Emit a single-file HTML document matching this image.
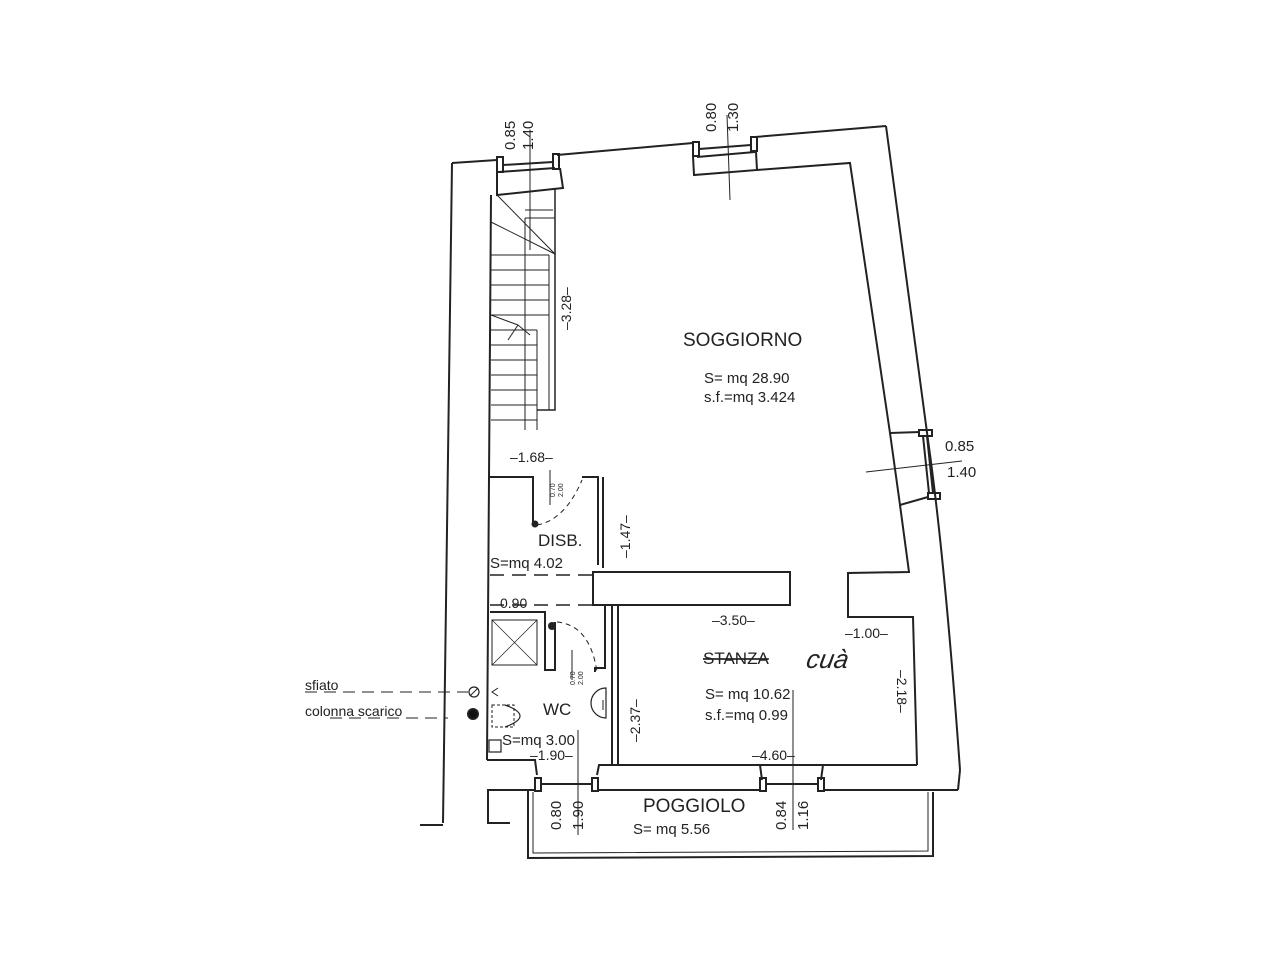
<!DOCTYPE html>
<html><head><meta charset="utf-8"><style>
html,body{margin:0;padding:0;background:#fff;width:1280px;height:960px;overflow:hidden}
svg{display:block}
text{font-family:"Liberation Sans","DejaVu Sans",sans-serif;fill:#222}
</style></head><body>
<svg width="1280" height="960" viewBox="0 0 1280 960" xmlns="http://www.w3.org/2000/svg">
<g stroke="#222" stroke-width="2" fill="none" stroke-linejoin="miter">
<polyline points="452,163 497,160"/>
<line x1="452" y1="163" x2="443" y2="823"/>
<line x1="420" y1="825" x2="443" y2="825"/>
<line x1="557" y1="155" x2="693" y2="143"/>
<line x1="755" y1="137" x2="886" y2="126"/>
<rect x="497" y="157" width="6" height="15"/><rect x="553" y="154" width="6" height="15"/>
<line x1="503" y1="165" x2="553" y2="162"/><line x1="499" y1="172" x2="555" y2="168"/>
<rect x="693" y="142" width="6" height="14"/><rect x="751" y="137" width="6" height="14"/>
<line x1="699" y1="149" x2="751" y2="145"/><line x1="697" y1="157" x2="755" y2="152"/>
<polyline points="497,172 497,195 563,188 560,168"/>
<polyline points="693,156 694,175 757,170 756,152"/>
<polyline points="757,170 850,163 890,433 920,432"/>
<path d="M886,126 L928,440 Q945,560 960,770"/>
<line x1="960" y1="770" x2="958" y2="790"/>
<rect x="919" y="430" width="13" height="6"/><rect x="928" y="493" width="12" height="6"/>
<line x1="923" y1="436" x2="929" y2="493"/><line x1="927" y1="436" x2="933" y2="493"/>
<polyline points="890,433 900,505 928,497"/>
<polyline points="900,505 909,572 848,573 848,617 913,617 917,765"/>
<line x1="866" y1="472" x2="962" y2="461" stroke-width="1"/>
<line x1="491" y1="195" x2="487" y2="760"/>
<polyline points="487,760 535,760 537,775"/>
<polyline points="597,775 599,765 917,765"/>
<polyline points="598,790 760,790"/>
<polyline points="823,790 958,790"/>
<line x1="823" y1="765" x2="821" y2="780"/><line x1="760" y1="765" x2="762" y2="780"/>
<rect x="535" y="778" width="6" height="13"/><rect x="592" y="778" width="6" height="13"/>
<rect x="760" y="778" width="6" height="13"/><rect x="818" y="778" width="6" height="13"/>
<line x1="541" y1="784" x2="592" y2="784"/><line x1="766" y1="784" x2="818" y2="784"/>
<line x1="487" y1="790" x2="535" y2="790"/>
<polyline points="488,790 488,823 510,823"/>
<polyline points="528,790 528,858 933,856 933,792"/>
<polyline points="533,792 533,853 928,851 928,792" stroke-width="1"/>
<polyline points="555,188 555,410 537,410" stroke-width="1.5"/>
<line x1="549" y1="255" x2="549" y2="410" stroke-width="1"/>
<polyline points="525,218 555,218" stroke-width="1"/>
<polyline points="525,218 525,430" stroke-width="1"/>
<polyline points="537,330 537,430" stroke-width="1"/>
<g stroke-width="1">
<line x1="491" y1="222" x2="555" y2="254"/>
<line x1="497" y1="195" x2="555" y2="254"/>
<line x1="525" y1="210" x2="553" y2="210"/>
<line x1="491" y1="255" x2="549" y2="255"/><line x1="491" y1="270" x2="549" y2="270"/>
<line x1="491" y1="285" x2="549" y2="285"/><line x1="491" y1="300" x2="549" y2="300"/>
<line x1="491" y1="315" x2="549" y2="315"/><line x1="491" y1="330" x2="537" y2="330"/>
<line x1="491" y1="345" x2="537" y2="345"/><line x1="491" y1="360" x2="537" y2="360"/>
<line x1="491" y1="375" x2="537" y2="375"/><line x1="491" y1="390" x2="537" y2="390"/>
<line x1="491" y1="405" x2="537" y2="405"/><line x1="491" y1="420" x2="537" y2="420"/>
<line x1="491" y1="315" x2="518" y2="325"/><line x1="518" y1="325" x2="530" y2="335"/>
<line x1="518" y1="325" x2="508" y2="340"/>
<line x1="530" y1="130" x2="530" y2="250"/>
<line x1="727" y1="115" x2="730" y2="200"/>
</g>
<polyline points="490,477 533,477 533,525" stroke-width="2"/>
<polyline points="582,477 598,477 598,565"/>
<line x1="603" y1="477" x2="603" y2="568"/>
<path d="M537,525 Q565,520 582,480" stroke-dasharray="5,4" stroke-width="1"/>
<circle cx="535" cy="524" r="2.5" fill="#222"/>
<line x1="550" y1="470" x2="550" y2="505" stroke-width="1"/>
<line x1="490" y1="575" x2="593" y2="575" stroke-dasharray="14,8" stroke-width="1.5"/>
<line x1="490" y1="605" x2="593" y2="605" stroke-dasharray="14,8" stroke-width="1.5"/>
<rect x="593" y="572" width="197" height="33"/>
<line x1="612" y1="605" x2="612" y2="765"/><line x1="618" y1="605" x2="618" y2="765"/>
<polyline points="490,612 545,612 545,670 555,670 555,622"/>
<rect x="492" y="620" width="45" height="45" stroke-width="1"/>
<line x1="492" y1="620" x2="537" y2="665" stroke-width="0.7"/><line x1="537" y1="620" x2="492" y2="665" stroke-width="0.7"/>
<circle cx="552" cy="626" r="3" fill="#222"/>
<path d="M557,622 Q590,625 597,672" stroke-dasharray="5,4" stroke-width="1"/>
<polyline points="595,672 595,668 605,668 605,605"/>
<line x1="572" y1="650" x2="572" y2="680" stroke-width="1"/>
<path d="M606,688 A14,14 0 1 0 606,718 Z" stroke-width="1.2"/>
<line x1="603" y1="700" x2="603" y2="710" stroke-width="1"/>
<rect x="492" y="705" width="22" height="22" stroke-width="1" stroke-dasharray="3,2"/>
<path d="M505,705 Q535,716 505,727" stroke-width="1.2"/>
<rect x="489" y="740" width="12" height="12" stroke-width="1.2"/>
<line x1="305" y1="692" x2="468" y2="692" stroke-dasharray="12,7" stroke-width="1"/>
<line x1="330" y1="718" x2="448" y2="718" stroke-dasharray="12,7" stroke-width="1"/>
<circle cx="474" cy="692" r="5" stroke-width="1.2"/><line x1="470" y1="696" x2="478" y2="688" stroke-width="1"/>
<circle cx="473" cy="714" r="5" fill="#111"/>
<polyline points="498,688 492,692 498,696" stroke-width="1"/>
<line x1="578" y1="730" x2="578" y2="835" stroke-width="1"/>
<line x1="793" y1="690" x2="793" y2="830" stroke-width="1"/>
</g>
<g font-size="15">
<text transform="translate(515,150) rotate(-90)">0.85</text>
<text transform="translate(533,150) rotate(-90)">1.40</text>
<text transform="translate(716,132) rotate(-90)">0.80</text>
<text transform="translate(738,132) rotate(-90)">1.30</text>
<text x="945" y="451">0.85</text>
<text x="947" y="477">1.40</text>
<text transform="translate(571,330) rotate(-90)" font-size="14">–3.28–</text>
<text x="510" y="462" font-size="14">–1.68–</text>
<text transform="translate(630,558) rotate(-90)" font-size="14">–1.47–</text>
<text transform="translate(640,742) rotate(-90)" font-size="14">–2.37–</text>
<text transform="translate(897,670) rotate(90)" font-size="14">–2.18–</text>
<text x="500" y="608" font-size="14">0.90</text>
<text x="712" y="625" font-size="14">–3.50–</text>
<text x="845" y="638" font-size="14">–1.00–</text>
<text x="530" y="760" font-size="14">–1.90–</text>
<text x="752" y="760" font-size="14">–4.60–</text>
<text x="683" y="346" font-size="19">SOGGIORNO</text>
<text x="704" y="383">S=  mq  28.90</text>
<text x="704" y="402">s.f.=mq  3.424</text>
<text x="538" y="546" font-size="17">DISB.</text>
<text x="490" y="568">S=mq  4.02</text>
<text x="703" y="664" font-size="17" text-decoration="line-through">STANZA</text>
<text x="808" y="668" font-size="26" font-style="italic" transform="skewX(-10) translate(115,0)">cuà</text>
<text x="705" y="699">S=  mq  10.62</text>
<text x="705" y="720">s.f.=mq  0.99</text>
<text x="543" y="715" font-size="17">WC</text>
<text x="502" y="745">S=mq  3.00</text>
<text x="643" y="812" font-size="19">POGGIOLO</text>
<text x="633" y="834">S=  mq  5.56</text>
<text transform="translate(561,830) rotate(-90)">0.80</text>
<text transform="translate(583,830) rotate(-90)">1.90</text>
<text transform="translate(786,830) rotate(-90)">0.84</text>
<text transform="translate(808,830) rotate(-90)">1.16</text>
<text transform="translate(555,497) rotate(-90)" font-size="7">0.70</text>
<text transform="translate(563,497) rotate(-90)" font-size="7">2.00</text>
<text transform="translate(575,685) rotate(-90)" font-size="7">0.70</text>
<text transform="translate(583,685) rotate(-90)" font-size="7">2.00</text>
<text x="305" y="690" font-size="14">sfiato</text>
<text x="305" y="716" font-size="14">colonna scarico</text>
</g>
</svg>
</body></html>
